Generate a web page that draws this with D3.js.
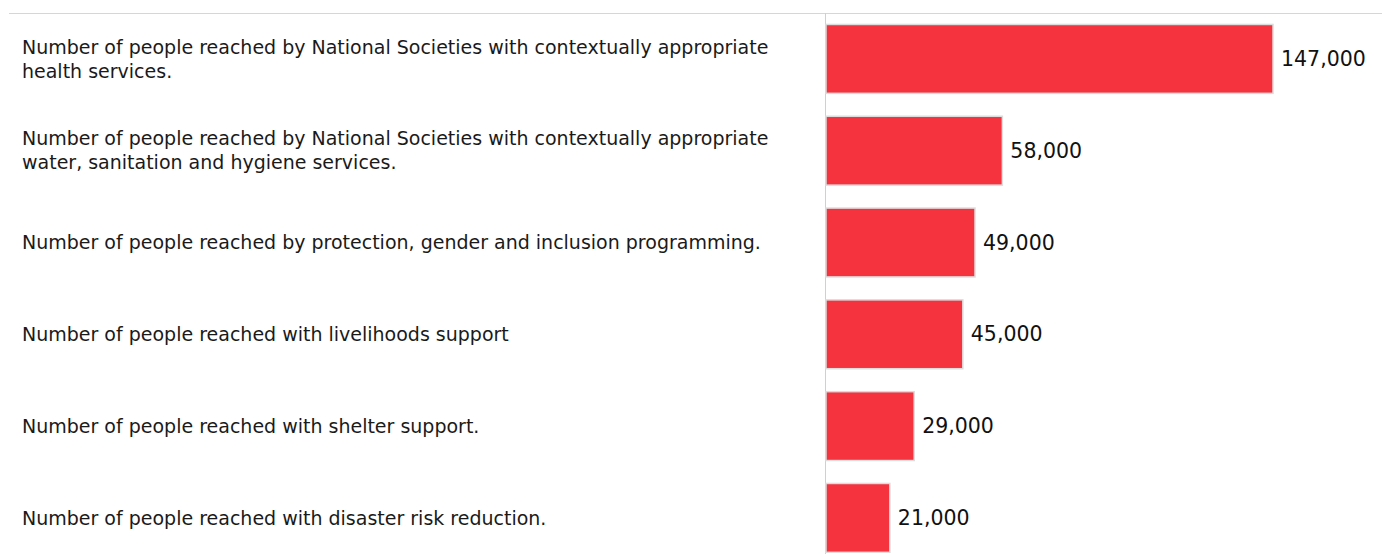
<!DOCTYPE html>
<html lang="en">
<head>
  <meta charset="UTF-8">
  <title>People reached</title>
  <script src="https://d3js.org/d3.v7.min.js"></script>
  <style>
    body { margin: 0; background: #fff; }
    text { font-family: "DejaVu Sans", sans-serif; }
  </style>
</head>
<body>
<script>
  const categories = [
    "Number of people reached by National Societies with contextually appropriate health services.",
    "Number of people reached by National Societies with contextually appropriate water, sanitation and hygiene services.",
    "Number of people reached by protection, gender and inclusion programming.",
    "Number of people reached with livelihoods support",
    "Number of people reached with shelter support.",
    "Number of people reached with disaster risk reduction."
  ];
  const values = [147000, 58000, 49000, 45000, 29000, 21000];

  const width = 1382,
    height = 554;
  const axisX = 826, topY = 13;

  const svg = d3.select("body").append("svg")
    .attr("width", width)
    .attr("height", height);

  const x = d3.scaleLinear()
    .domain([0, 147000])
    .range([axisX, 1273]);

  const y = d3.scaleBand()
    .domain(categories)
    .range([topY, topY + 6 * 91.8])
    .paddingInner(0.25)
    .paddingOuter(0.125);

  // top rule and vertical axis
  svg.append("line")
    .attr("x1", 9).attr("x2", width)
    .attr("y1", topY + 0.5).attr("y2", topY + 0.5)
    .attr("stroke", "#d6d6d6");
  svg.append("line")
    .attr("x1", axisX - 0.5).attr("x2", axisX - 0.5)
    .attr("y1", topY).attr("y2", height)
    .attr("stroke", "#d0d0d0");

  svg.selectAll("rect.bar")
    .data(values)
    .join("rect")
    .attr("class", "bar")
    .attr("x", axisX)
    .attr("y", (d, i) => y(categories[i]))
    .attr("width", d => x(d) - axisX)
    .attr("height", y.bandwidth())
    .attr("fill", "#f5333f")
    .attr("stroke", "#dcdcdc")
    .attr("stroke-width", 1.5);

  svg.selectAll("text.value")
    .data(values)
    .join("text")
    .attr("class", "value")
    .attr("x", d => x(d) + 8)
    .attr("y", (d, i) => y(categories[i]) + y.bandwidth() / 2)
    .attr("dy", "0.35em")
    .attr("font-size", 20.5)
    .attr("fill", "#111")
    .text(d => d3.format(",")(d));

  // category labels, wrapped to the label column
  const maxW = 782;
  const lineH = 24;
  categories.forEach(function (c, i) {
    const t = svg.append("text")
      .attr("x", 22)
      .attr("font-size", 19)
      .attr("fill", "#1a1a1a");
    const words = c.split(" ");
    let lines = [], cur = [];
    const probe = t.append("tspan");
    words.forEach(w => {
      cur.push(w);
      probe.text(cur.join(" "));
      if (probe.node().getComputedTextLength() > maxW - 22 && cur.length > 1) {
        cur.pop();
        lines.push(cur.join(" "));
        cur = [w];
      }
    });
    lines.push(cur.join(" "));
    probe.remove();
    const cy = y(c) + y.bandwidth() / 2;
    lines.forEach((l, k) => {
      t.append("tspan")
        .attr("x", 22)
        .attr("y", cy + (k - (lines.length - 1) / 2) * lineH)
        .attr("dy", "0.35em")
        .text(l);
    });
  });
</script>
</body>
</html>
